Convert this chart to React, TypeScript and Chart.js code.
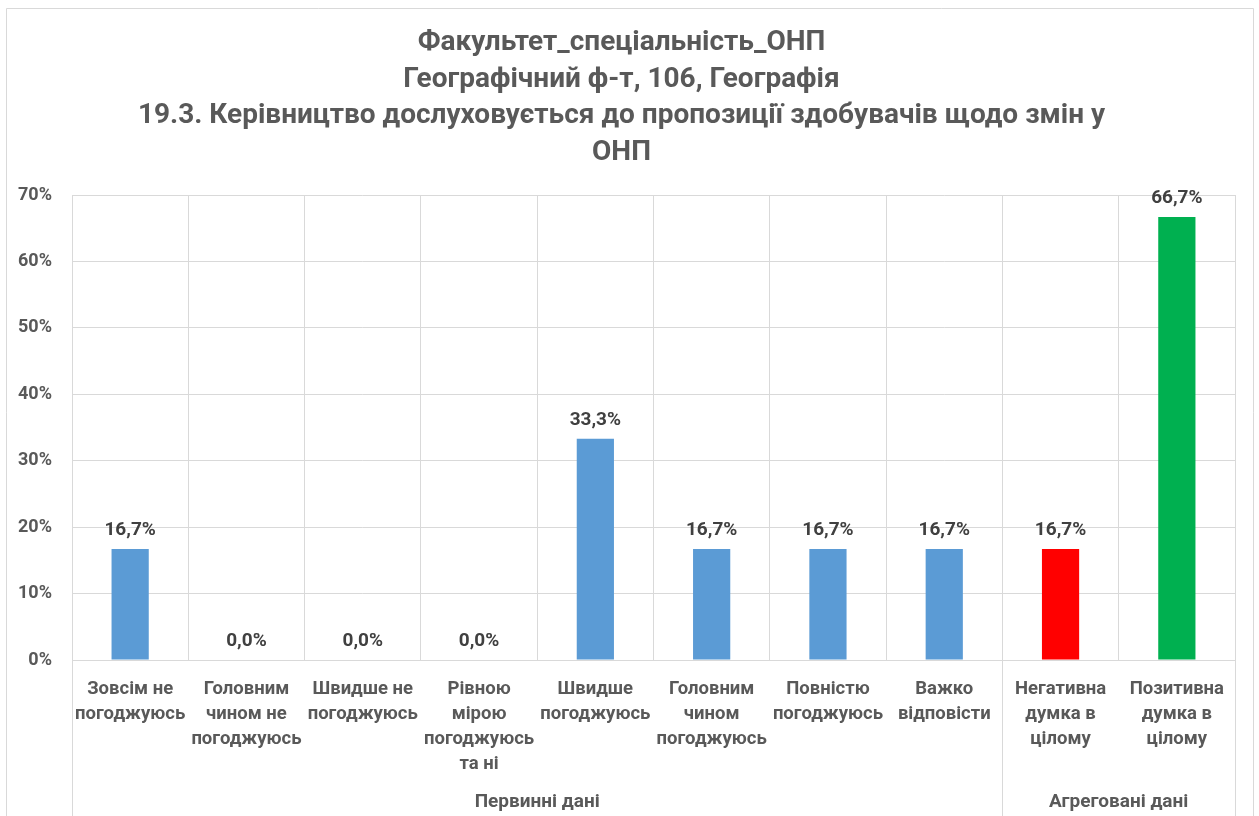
import React, { useEffect, useRef } from "react";
import { Chart, registerables } from "chart.js";

Chart.register(...registerables);

const titleLines = [
  "Факультет_спеціальність_ОНП",
  "Географічний ф-т, 106, Географія",
  "19.3. Керівництво дослуховується до пропозиції здобувачів щодо змін у",
  "ОНП",
];

const categories: string[][] = [
  ["Зовсім не", "погоджуюсь"],
  ["Головним", "чином не", "погоджуюсь"],
  ["Швидше не", "погоджуюсь"],
  ["Рівною", "мірою", "погоджуюсь", "та ні"],
  ["Швидше", "погоджуюсь"],
  ["Головним", "чином", "погоджуюсь"],
  ["Повністю", "погоджуюсь"],
  ["Важко", "відповісти"],
  ["Негативна", "думка в", "цілому"],
  ["Позитивна", "думка в", "цілому"],
];

const values = [16.7, 0.0, 0.0, 0.0, 33.3, 16.7, 16.7, 16.7, 16.7, 66.7];

const barColors = [
  "#5B9BD5", "#5B9BD5", "#5B9BD5", "#5B9BD5", "#5B9BD5",
  "#5B9BD5", "#5B9BD5", "#5B9BD5", "#FF0000", "#00B050",
];

const groups = [
  { label: "Первинні дані", from: 0, to: 7 },
  { label: "Агреговані дані", from: 8, to: 9 },
];

const yTicks = [0, 10, 20, 30, 40, 50, 60, 70];

const FONT = "Roboto, 'Noto Sans', sans-serif";
const TEXT = "#595959";
const GRID = "#D9D9D9";

const extrasPlugin = {
  id: "extras",
  beforeDraw(chart: any) {
    const ctx = chart.ctx;
    ctx.save();
    ctx.fillStyle = "#FFFFFF";
    ctx.fillRect(0, 0, chart.width, chart.height);
    ctx.strokeStyle = GRID;
    ctx.lineWidth = 1;
    ctx.beginPath();
    ctx.moveTo(6.5, chart.height);
    ctx.lineTo(6.5, 8.5);
    ctx.lineTo(1253.5, 8.5);
    ctx.lineTo(1253.5, chart.height);
    ctx.stroke();
    ctx.restore();
  },
  afterDraw(chart: any) {
    const ctx = chart.ctx;
    const xs = chart.scales.x;
    const area = chart.chartArea;
    const half = (xs.getPixelForValue(1) - xs.getPixelForValue(0)) / 2;
    ctx.save();
    // group separators
    ctx.strokeStyle = GRID;
    ctx.lineWidth = 1;
    const seps = [groups[0].from, groups[1].from, groups[1].to + 1];
    seps.forEach((i) => {
      const x = Math.round(xs.getPixelForValue(i) - half) + 0.5;
      ctx.beginPath();
      ctx.moveTo(x, area.bottom);
      ctx.lineTo(x, chart.height);
      ctx.stroke();
    });
    // group labels
    ctx.fillStyle = TEXT;
    ctx.font = `bold 19px ${FONT}`;
    ctx.textAlign = "center";
    ctx.textBaseline = "middle";
    groups.forEach((g) => {
      const x1 = xs.getPixelForValue(g.from) - half;
      const x2 = xs.getPixelForValue(g.to) + half;
      ctx.fillText(g.label, (x1 + x2) / 2, 802);
    });
    // data labels
    const meta = chart.getDatasetMeta(0);
    ctx.fillStyle = "#404040";
    ctx.font = `bold 19px ${FONT}`;
    meta.data.forEach((bar: any, i: number) => {
      const txt = values[i].toFixed(1).replace(".", ",") + "%";
      ctx.fillText(txt, bar.x, bar.y - 19);
    });
    ctx.restore();
  },
};

export default function App() {
  const ref = useRef<HTMLCanvasElement>(null);
  useEffect(() => {
    document.body.style.margin = "0";
    const chart = new Chart(ref.current as HTMLCanvasElement, {
      type: "bar",
      data: {
        labels: categories,
        datasets: [
          {
            data: values,
            backgroundColor: barColors,
            borderWidth: 0,
            categoryPercentage: 1,
            barPercentage: 0.32,
          },
        ],
      },
      options: {
        animation: false,
        responsive: false,
        maintainAspectRatio: false,
        layout: { padding: { left: 8, right: 24, top: 0, bottom: 0 } },
        plugins: {
          legend: { display: false },
          tooltip: { enabled: false },
          title: {
            display: true,
            text: titleLines,
            color: TEXT,
            font: { family: FONT, size: 28, weight: "bold", lineHeight: 36.5 / 28 },
            padding: { top: 25, bottom: 24 },
          },
        },
        scales: {
          x: {
            grid: { color: GRID, offset: true, drawTicks: false },
            border: { color: GRID },
            ticks: {
              color: TEXT,
              font: { family: FONT, size: 18.5, weight: "bold", lineHeight: 25 / 18.5 },
              padding: 17,
              maxRotation: 0,
              autoSkip: false,
            },
            afterFit(scale: any) {
              scale.height = 156;
            },
          },
          y: {
            min: 0,
            max: 70,
            grid: { color: GRID, drawTicks: false },
            border: { display: false },
            afterBuildTicks(scale: any) {
              scale.ticks = yTicks.map((v) => ({ value: v }));
            },
            ticks: {
              color: TEXT,
              font: { family: FONT, size: 18, weight: "bold" },
              padding: 20,
              callback: (v: any) => v + "%",
            },
            afterFit(scale: any) {
              scale.width = 64;
            },
          },
        },
      },
      plugins: [extrasPlugin],
    } as any);
    return () => chart.destroy();
  }, []);
  return (
    <div style={{ width: 1259, height: 816 }}>
      <canvas ref={ref} width={1259} height={816} style={{ display: "block" }} />
    </div>
  );
}
